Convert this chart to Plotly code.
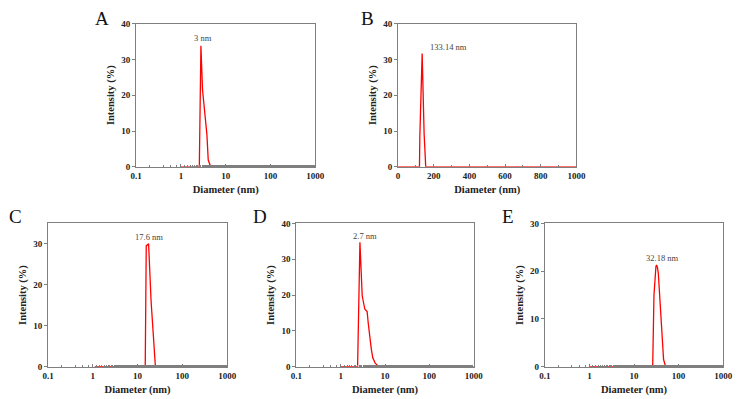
import numpy as np
import plotly.graph_objects as go

# ---- data ----
a_x = [1.0, 2.5, 2.58, 2.8, 3.04, 3.81, 4.08, 4.63, 10, 100, 1000]
a_y = [0, 0, 0, 33.8, 21.5, 9.0, 1.9, 0, 0, 0, 0]

b_x = [0, 120, 122, 135, 146, 155, 1000]
b_y = [0, 0, 8.4, 31.6, 9.3, 0, 0]

c_x = [1.1, 10, 14.8, 15.6, 17.6, 20.0, 22.5, 25.0, 100, 1000]
c_y = [0, 0, 0, 29.5, 30.0, 16.0, 6.0, 0, 0, 0]

d_x = [1.0, 2.0, 2.41, 2.72, 3.06, 3.5, 3.95, 4.2, 4.5, 4.9, 5.3, 6.0, 6.9, 8.9, 100, 1000]
d_y = [0, 0, 0, 34.7, 19.8, 16.1, 15.4, 12.0, 8.0, 5.0, 2.5, 1.0, 0.3, 0, 0, 0]

e_x = [1.0, 10, 26.2, 28.0, 29.4, 31.0, 32.0, 33.5, 35.0, 37.0, 39.3, 41.0, 43.4, 46.0, 50.0, 53.0, 100, 1000]
e_y = [0, 0, 0, 15.0, 19.6, 21.0, 21.3, 20.8, 19.6, 16.0, 12.1, 8.0, 3.9, 1.5, 0.3, 0, 0, 0]

panel_labels = ["A", "B", "C", "D", "E"]
peak_labels = ["3 nm", "133.14 nm", "17.6 nm", "2.7 nm", "32.18 nm"]
peak_pos = [(3.0, 33.8), (135, 31.6), (17.6, 30.0), (2.72, 34.7), (32.0, 21.3)]
y_max = [40, 40, 35, 40, 30]
y_ticks = [[0, 10, 20, 30, 40], [0, 10, 20, 30, 40], [0, 10, 20, 30], [0, 10, 20, 30, 40], [0, 10, 20, 30]]
log_ticks = [0.1, 1, 10, 100, 1000]
lin_ticks = [0, 200, 400, 600, 800, 1000]

W, H = 743, 399
# plot boxes in px: (x0, x1, y0, y1)
boxes = [(133, 316, 19, 166), (400.7, 583, 19, 166),
         (43, 226, 224, 371), (296.7, 478, 224, 371), (550.7, 733, 224, 371)]

series = [(a_x, a_y), (b_x, b_y), (c_x, c_y), (d_x, d_y), (e_x, e_y)]
is_log = [True, False, True, True, True]

fig = go.Figure()
FONT = "Liberation Serif"
AX = "#7f7f7f"

annotations = []
for i, ((xs, ys), box) in enumerate(zip(series, boxes)):
    n = "" if i == 0 else str(i + 1)
    fig.add_trace(go.Scatter(x=xs, y=ys, mode="lines",
                             line=dict(color="#ff0000", width=1.3),
                             xaxis="x" + n, yaxis="y" + n, showlegend=False))
    x0, x1, y0, y1 = box
    xd = [x0 / W, x1 / W]
    yd = [1 - y1 / H, 1 - y0 / H]
    tickfont = dict(family=FONT, size=9, color="#222", weight="bold")
    titlefont = dict(family=FONT, size=10.5, color="#222", weight="bold")
    if is_log[i]:
        xax = dict(type="log", range=[-1, 3], tickvals=log_ticks,
                   ticktext=[str(t) for t in log_ticks],
                   minor=dict(ticks="inside", ticklen=2, tickcolor=AX, showgrid=False))
    else:
        xax = dict(range=[0, 1000], tickvals=lin_ticks,
                   ticktext=[str(t) for t in lin_ticks],
                   minor=dict(ticks="inside", ticklen=2, tickcolor=AX, dtick=100, showgrid=False))
    xax.update(domain=xd, anchor="y" + n, showline=True, linecolor=AX, linewidth=1,
               mirror=True, ticks="inside", ticklen=3, tickcolor=AX, showgrid=False,
               zeroline=False, tickfont=tickfont,
               title=dict(text="Diameter (nm)", font=titlefont, standoff=6))
    yax = dict(domain=yd, anchor="x" + n, range=[0, y_max[i]], tickvals=y_ticks[i],
               showline=True, linecolor=AX, linewidth=1, mirror=True, ticks="outside",
               ticklen=3, tickcolor=AX, showgrid=False, zeroline=False, tickfont=tickfont,
               title=dict(text="Intensity (%)", font=titlefont, standoff=4))
    fig.update_layout(**{"xaxis" + n: xax, "yaxis" + n: yax})

    # panel label
    lx = [98, 369, 10, 260, 513][i]
    ly = [14, 14, 217, 217, 217][i]
    annotations.append(dict(text=panel_labels[i], xref="paper", yref="paper",
                            x=lx / W, y=1 - ly / H, showarrow=False,
                            font=dict(family=FONT, size=19, color="#111"),
                            xanchor="center", yanchor="middle"))
    # peak label
    px, py = peak_pos[i]
    xv = np.log10(px) if is_log[i] else px
    xanc = "left" if i == 1 else "center"
    xs_shift = [1, 6, 0, 5, 6][i]
    annotations.append(dict(text=peak_labels[i], xref="x" + n, yref="y" + n,
                            x=xv, y=py, showarrow=False, xanchor=xanc, yanchor="bottom",
                            xshift=xs_shift, yshift=[1, 0, 0, -1, 0][i],
                            font=dict(family=FONT, size=8.5, color="#444")))

fig.update_layout(width=W, height=H, margin=dict(l=0, r=0, t=0, b=0),
                  paper_bgcolor="white", plot_bgcolor="white",
                  annotations=annotations)
fig.write_html("out.html")
